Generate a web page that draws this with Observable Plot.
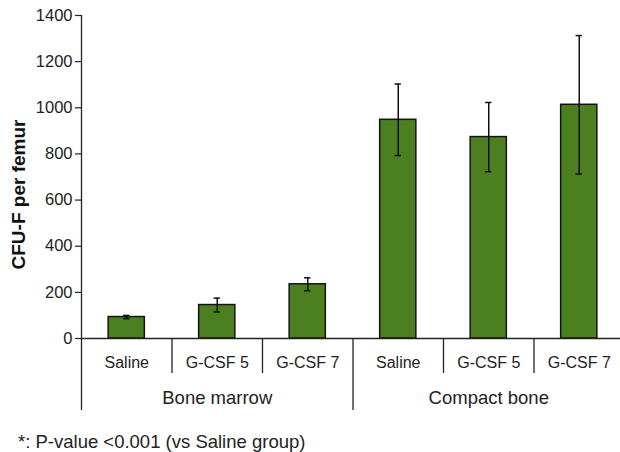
<!DOCTYPE html>
<html>
<head>
<meta charset="utf-8">
<script src="https://cdn.jsdelivr.net/npm/d3@7"></script>
<script src="https://cdn.jsdelivr.net/npm/@observablehq/plot@0.6"></script>
<style>
  html, body { margin: 0; padding: 0; background: #fff; }
  #chart svg { display: block; }
  .note {
    font-family: "Liberation Sans", Arial, Helvetica, sans-serif;
    font-size: 18.5px;
    line-height: 20px;
    color: #222;
    padding-left: 18px;
  }
</style>
</head>
<body>
<div id="chart"></div>
<div class="note">*: P-value &lt;0.001 (vs Saline group)</div>
<script>
// CFU-F counts per femur, by tissue and treatment
const groups = ["Bone marrow", "Bone marrow", "Bone marrow", "Compact bone", "Compact bone", "Compact bone"];
const treatments = ["Saline", "G-CSF 5", "G-CSF 7", "Saline", "G-CSF 5", "G-CSF 7"];
const means = [93, 145, 235, 948, 873, 1013];
const errors = [7, 30, 28, 155, 150, 300];
const yTicks = [0, 200, 400, 600, 800, 1000, 1200, 1400];

const data = treatments.map((t, i) => ({
  i, treatment: t, group: groups[i], mean: means[i], lo: means[i] - errors[i], hi: means[i] + errors[i]
}));

// category boundaries; a boundary is "long" where the tissue group changes
const boundaries = [];
for (let i = 0; i <= treatments.length; i++) {
  const long = i === 0 || i === treatments.length || groups[i] !== groups[i - 1];
  boundaries.push({x: i - 0.5, long});
}

// group label positions: centre of each run of categories
const groupNames = [...new Set(groups)];
const groupLabels = groupNames.map(g => {
  const idx = groups.map((v, i) => v === g ? i : -1).filter(i => i >= 0);
  return {name: g, x: d3.mean(idx)};
});

const W = 620, H = 432, mTop = 15, mBottom = 94, mLeft = 81;
const frameH = H - mTop - mBottom;
const font = "Liberation Sans, Arial, Helvetica, sans-serif";
const ink = "#222";

const chart = Plot.plot({
  width: W,
  height: H,
  marginTop: mTop,
  marginBottom: mBottom,
  marginLeft: mLeft,
  marginRight: 0,
  style: {fontFamily: font, fontSize: "16px", color: ink, background: "#fff"},
  x: {type: "linear", domain: [-0.5, treatments.length - 0.5], range: [mLeft, mLeft + 90.5 * treatments.length], axis: null},
  y: {domain: [0, 1400], axis: null},
  marks: [
    // y axis ticks and labels
    Plot.axisY({ticks: yTicks, tickSize: 6, tickPadding: 3, fontSize: 16.5, label: null,
                tickFormat: d => `${d}`, stroke: ink, strokeWidth: 1.2}),
    // bars
    Plot.rect(data, {x1: d => d.i - 0.2, x2: d => d.i + 0.2, y1: 0, y2: "mean",
                     fill: "#4b7f1f", stroke: "#141414", strokeWidth: 1.5}),
    // error bars with caps
    Plot.ruleX(data, {x: "i", y1: "lo", y2: "hi", stroke: "#111", strokeWidth: 1.5}),
    Plot.ruleY(data, {y: "hi", x1: d => d.i - 0.035, x2: d => d.i + 0.035, stroke: "#111", strokeWidth: 1.5}),
    Plot.ruleY(data, {y: "lo", x1: d => d.i - 0.035, x2: d => d.i + 0.035, stroke: "#111", strokeWidth: 1.5}),
    // y axis line (continues down as the outer group divider)
    Plot.ruleX([boundaries[0]], {x: "x", insetBottom: -72, stroke: ink, strokeWidth: 1.3}),
    // dividers below the x axis
    Plot.ruleX(boundaries.slice(1), {x: "x", insetTop: frameH, insetBottom: -35, stroke: ink, strokeWidth: 1.3,
                                      filter: d => !d.long}),
    Plot.ruleX(boundaries.slice(1), {x: "x", insetTop: frameH, insetBottom: -72, stroke: ink, strokeWidth: 1.3,
                                      filter: d => d.long}),
    // x axis baseline
    Plot.ruleY([0], {stroke: ink, strokeWidth: 1.3}),
    // treatment labels
    Plot.text(data, {x: "i", text: "treatment", frameAnchor: "bottom", dy: 24, lineAnchor: "middle",
                     fontSize: 16, fill: ink}),
    // tissue group labels
    Plot.text(groupLabels, {x: "x", text: "name", frameAnchor: "bottom", dy: 60, lineAnchor: "middle",
                            fontSize: 18.5, fill: ink}),
    // y axis title
    Plot.text(["CFU-F per femur"], {frameAnchor: "left", dx: -62.5, dy: 17.5, rotate: -90,
                                    textAnchor: "middle", lineAnchor: "middle",
                                    fontSize: 19, fontWeight: "bold", fill: "#111"})
  ]
});

document.getElementById("chart").appendChild(chart);
</script>
</body>
</html>
